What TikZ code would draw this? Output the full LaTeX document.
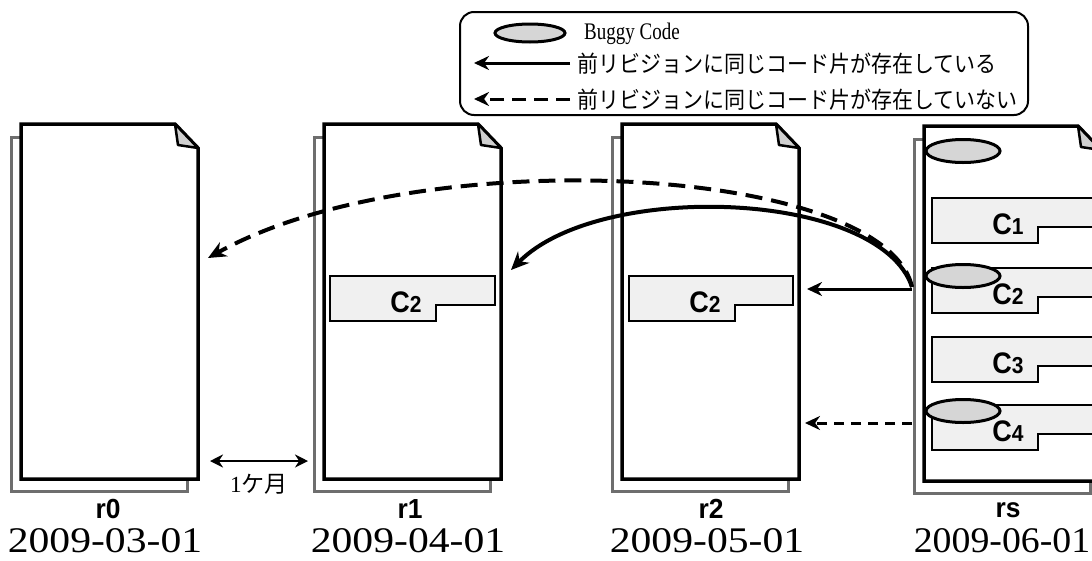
\documentclass[tikz,border=0pt]{standalone}
\usepackage{fontspec}
\setmainfont{Liberation Serif}
\newfontfamily\jpfont{Noto Sans CJK JP}
\newfontfamily\arialfont{Liberation Sans}
\usetikzlibrary{arrows.meta,shapes.geometric}
\definecolor{backgray}{HTML}{6E6E6E}
\definecolor{boxfill}{HTML}{F0F0F0}
\definecolor{bugfill}{HTML}{D6D6D6}
\definecolor{foldfill}{HTML}{D0D0D0}
\newcommand\revdoc[2]{%
  \draw[backdoc] (#1-10,#2+13) rectangle (#1+166,#2+367);
  \draw[frontdoc] (#1,#2) -- (#1+154,#2) -- (#1+177,#2+24) -- (#1+177,#2+355) -- (#1,#2+355) -- cycle;
  \draw[folddraw] (#1+154,#2) -- (#1+157,#2+21) -- (#1+177,#2+24) -- cycle;
}
\newcommand\codefrag[5]{%
  \draw[codebox] (#1,#2) -- (#3,#2) -- (#3,#2+29) -- (#1+106,#2+29) -- (#1+106,#2+45) -- (#1,#2+45) -- cycle;
  \node[clabel] (#4) at (#1+76,#2+26) {\scalebox{1}[1.1]{C{\fontsize{21}{21}\selectfont #5}}};
}
\begin{document}
\begin{tikzpicture}[x=1pt,y=-1pt,
  backdoc/.style={draw=backgray,line width=3pt,fill=white},
  frontdoc/.style={draw=black,line width=3.5pt,fill=white,line join=miter},
  folddraw/.style={draw=black,line width=2.5pt,fill=foldfill,line join=round},
  codebox/.style={draw=black,line width=2pt,fill=boxfill},
  clabel/.style={inner sep=0pt,font=\arialfont\bfseries\fontsize{27}{27}\selectfont},
  bug/.style={ellipse,draw=black,line width=3pt,fill=bugfill,inner sep=0pt},
  revlabel/.style={inner sep=0pt,font=\arialfont\bfseries\fontsize{24}{24}\selectfont},
  datelabel/.style={inner sep=0pt,font=\fontsize{35}{35}\selectfont},
  bigarr/.style={line width=4pt,-{Stealth[length=18pt,width=16pt]}},
  bigdash/.style={bigarr,dash pattern=on 17pt off 9pt},
  midarr/.style={line width=3pt,-{Stealth[length=15pt,width=14pt]}},
  middash/.style={midarr,dash pattern=on 10pt off 7pt},
  lgtext/.style={anchor=west,inner sep=0pt,font=\jpfont\fontsize{21}{21}\selectfont},
]
\useasboundingbox (0,0) rectangle (1092,560);

% documents
\revdoc{21}{124}
\revdoc{324}{124}
\revdoc{622}{124}
\revdoc{924}{126}

% code fragments
\codefrag{330}{276}{495}{r1c2}{2}
\codefrag{629}{276}{793}{r2c2}{2}
\codefrag{932}{198}{1115}{rsc1}{1}
\codefrag{932}{268}{1115}{rsc2}{2}
\codefrag{932}{337}{1115}{rsc3}{3}
\codefrag{932}{405}{1115}{rsc4}{4}

% buggy code ellipses
\node[bug,minimum width=74pt,minimum height=23pt] (bug0) at (963,151) {};
\node[bug,minimum width=74pt,minimum height=23pt] (bug2) at (963,276) {};
\node[bug,minimum width=74pt,minimum height=23pt] (bug4) at (963,411) {};

% labels
\node[revlabel] (l0) at (108,509) {\scalebox{1.1}[1.15]{r0}};
\node[revlabel] (l1) at (410,509) {\scalebox{1.1}[1.15]{r1}};
\node[revlabel] (l2) at (711,509) {\scalebox{1.1}[1.15]{r2}};
\node[revlabel] (ls) at (1008,510) {\scalebox{1.1}[1.15]{rs}};
\node[datelabel] (d0) at (105,541) {\scalebox{1.19}[1.03]{2009-03-01}};
\node[datelabel] (d1) at (408,541) {\scalebox{1.19}[1.03]{2009-04-01}};
\node[datelabel] (d2) at (707,541) {\scalebox{1.19}[1.03]{2009-05-01}};
\node[datelabel] (d3) at (1002,541) {\scalebox{1.08}[1.03]{2009-06-01}};

% connectors
\coordinate (src) at (912,287);
\coordinate (r0in) at (208,258);
\coordinate (r1in) at (511,270);
\coordinate (hs) at (912,289);
\coordinate (he) at (807,289);
\coordinate (ds) at (912,423);
\coordinate (de) at (805,423);
\draw[bigdash] (src) .. controls (885,165) and (420,140) .. (r0in);
\draw[bigarr] (src) .. controls (880,190) and (600,180) .. (r1in);
\draw[midarr] (hs) -- (he);
\draw[middash] (ds) -- (de);

% one month
\coordinate (ma) at (210,461);
\coordinate (mb) at (308,461);
\draw[line width=2.5pt,{Stealth[length=13pt,width=13pt]}-{Stealth[length=13pt,width=13pt]}] (ma) -- (mb);
\node[inner sep=0pt] (month) at (259,484) {\fontsize{22}{22}\selectfont\scalebox{1.05}[1.05]{1\jpfont ケ月}};

% legend
\node[draw=black,line width=2pt,rounded corners=14pt,minimum width=568pt,minimum height=103pt,inner sep=0pt] (legend) at (744,63.5) {};
\node[bug,minimum width=70pt,minimum height=18pt] (lgbug) at (530,33) {};
\node[anchor=west,inner sep=0pt,font=\fontsize{19}{19}\selectfont] (lgt0) at (584,34) {\scalebox{1}[1.25]{Buggy Code}};
\coordinate (la1) at (570,63);
\coordinate (lb1) at (474,63);
\coordinate (la2) at (570,99);
\coordinate (lb2) at (474,99);
\draw[line width=3pt,-{Stealth[length=15pt,width=14pt]}] (la1) -- (lb1);
\draw[line width=3pt,dash pattern=on 14pt off 8pt,-{Stealth[length=15pt,width=14pt]}] (la2) -- (lb2);
\node[lgtext] (lgt1) at (577,64) {\scalebox{1}[1.1]{前リビジョンに同じコード片が存在している}};
\node[lgtext] (lgt2) at (577,100) {\scalebox{1}[1.1]{前リビジョンに同じコード片が存在していない}};
\end{tikzpicture}
\end{document}
